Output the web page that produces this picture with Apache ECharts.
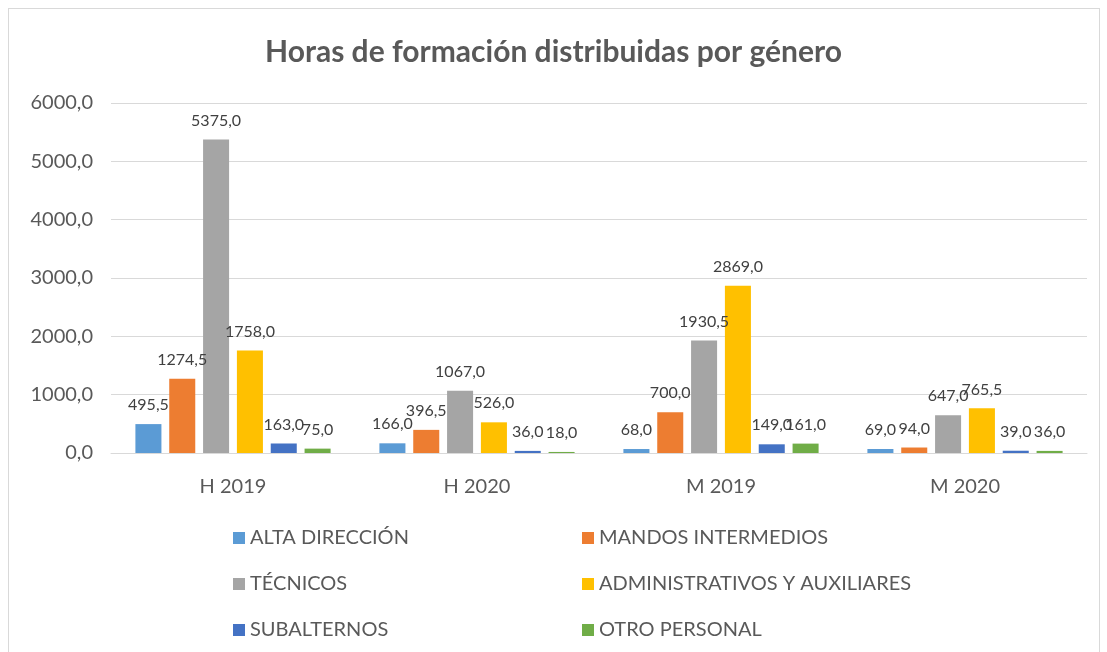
<!DOCTYPE html>
<html><head><meta charset="utf-8">
<script src="https://cdn.jsdelivr.net/npm/echarts@6/dist/echarts.min.js"></script>
<style>
html,body{margin:0;padding:0;background:#fff;}
#frame{position:absolute;left:8px;top:8px;width:1092px;height:660px;border:1px solid #d9d9d9;box-sizing:border-box;}
#c{position:absolute;left:0;top:0;width:1107px;height:652px;}
</style></head>
<body><div id="frame"></div><div id="c"></div>
<script>
const categories = ['H 2019', 'H 2020', 'M 2019', 'M 2020'];
const seriesNames = ['ALTA DIRECCIÓN', 'MANDOS INTERMEDIOS', 'TÉCNICOS', 'ADMINISTRATIVOS Y AUXILIARES', 'SUBALTERNOS', 'OTRO PERSONAL'];
const altaDireccion = [495.5, 166.0, 68.0, 69.0];
const mandosIntermedios = [1274.5, 396.5, 700.0, 94.0];
const tecnicos = [5375.0, 1067.0, 1930.5, 647.0];
const administrativos = [1758.0, 526.0, 2869.0, 765.5];
const subalternos = [163.0, 36.0, 149.0, 39.0];
const otroPersonal = [75.0, 18.0, 161.0, 36.0];
const colors = ['#5B9BD5', '#ED7D31', '#A5A5A5', '#FFC000', '#4472C4', '#70AD47'];
const allData = [altaDireccion, mandosIntermedios, tecnicos, administrativos, subalternos, otroPersonal];

const fmt = v => Number(v).toFixed(1).replace('.', ',');
const FONT = 'Lato';

const chart = echarts.init(document.getElementById('c'));
chart.setOption({
  animation: false,
  color: colors,
  title: {
    text: 'Horas de formación distribuidas por género',
    left: 'center', top: 32,
    textStyle: {fontFamily: FONT, fontSize: 30, fontWeight: 'bold', color: '#595959'}
  },
  legend: [
    {data: [seriesNames[0], seriesNames[2], seriesNames[4]], orient: 'vertical', left: 228, top: 523,
     itemWidth: 12, itemHeight: 12, itemGap: 26, icon: 'rect',
     textStyle: {fontFamily: FONT, fontSize: 20, color: '#595959'}},
    {data: [seriesNames[1], seriesNames[3], seriesNames[5]], orient: 'vertical', left: 577, top: 523,
     itemWidth: 12, itemHeight: 12, itemGap: 26, icon: 'rect',
     textStyle: {fontFamily: FONT, fontSize: 20, color: '#595959'}}
  ],
  grid: {left: 111, right: 20, top: 103, bottom: 199, containLabel: false},
  xAxis: {
    type: 'category', data: categories,
    axisLine: {lineStyle: {color: '#d9d9d9'}},
    axisTick: {show: false},
    axisLabel: {fontFamily: FONT, fontSize: 20, color: '#595959', margin: 24}
  },
  yAxis: {
    type: 'value', min: 0, max: 6000, interval: 1000,
    axisLine: {show: false}, axisTick: {show: false},
    splitLine: {lineStyle: {color: '#d9d9d9'}},
    axisLabel: {fontFamily: FONT, fontSize: 20, color: '#595959', margin: 18, formatter: fmt}
  },
  series: seriesNames.map((n, i) => ({
    name: n, type: 'bar', data: allData[i],
    barGap: '30%', barCategoryGap: '20%',
    label: {show: true, position: 'top', distance: 11, formatter: p => fmt(p.value),
      fontFamily: FONT, fontSize: 16, color: '#404040'}
  }))
});
</script></body></html>
